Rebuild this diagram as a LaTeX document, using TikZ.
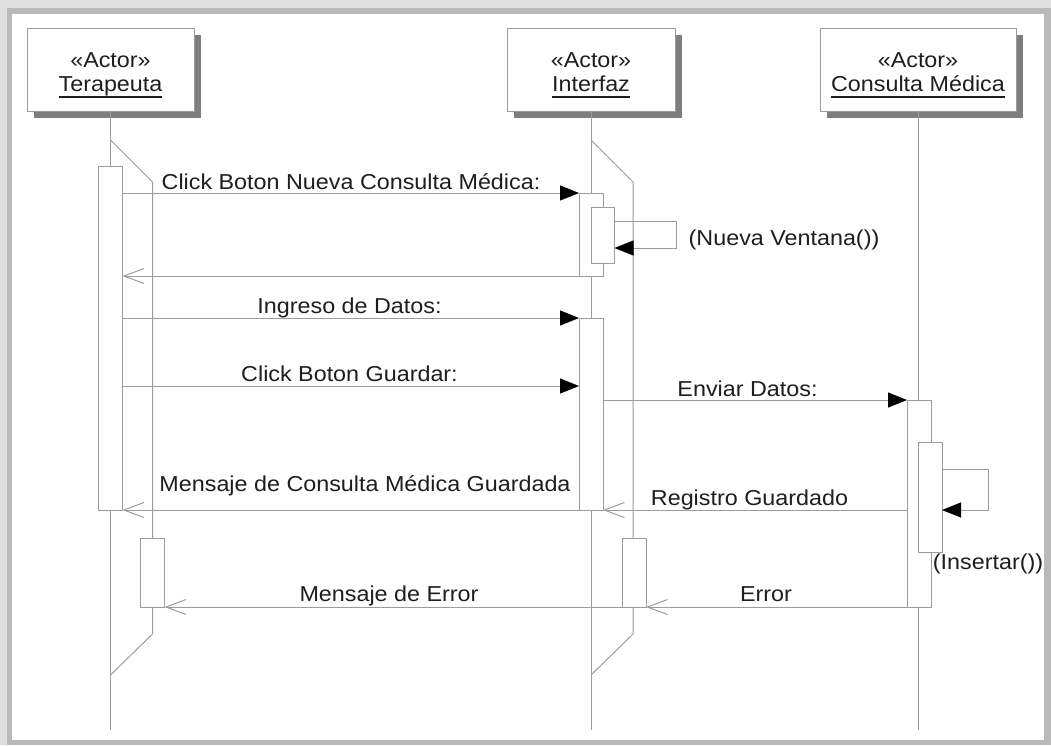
\documentclass[tikz,border=0pt]{standalone}
\usepackage{fontspec}
\setmainfont{Liberation Sans}[FakeStretch=1.08]
\usetikzlibrary{arrows.meta,shadows}
\definecolor{ln}{HTML}{9C9C9C}
\definecolor{shd}{HTML}{7E7E7E}
\definecolor{txt}{HTML}{1E1E1E}
\definecolor{bgA}{HTML}{DEDEDE}
\definecolor{bgB}{HTML}{BABABA}
\begin{document}
\begin{tikzpicture}[x=1pt,y=-1pt,
  every node/.style={inner sep=0pt, outer sep=0pt},
  lbl/.style={font=\fontsize{21.6}{24}\selectfont, text=txt, anchor=base},
  actorbox/.style={draw=ln, fill=white, line width=1pt, minimum width=#1, minimum height=83pt,
    drop shadow={shadow xshift=7pt, shadow yshift=-7pt, fill=shd, opacity=1}},
  bar/.style={draw=ln, fill=white, line width=1pt, minimum width=24pt, minimum height=#1},
  life/.style={draw=ln, line width=1pt},
  uline/.style={draw=txt, line width=1.2pt},
  msg/.style={draw=ln, line width=1pt, -{Triangle[length=19pt, width=15pt, color=black]}},
  ret/.style={draw=ln, line width=1pt, -{Straight Barb[length=20pt, width=15pt]}}
]
\useasboundingbox (0,0) rectangle (1051,745);
% frame
\fill[bgA] (0,0) rectangle (1051,745);
\fill[bgB] (7,8) rectangle (1051,745);
\fill[white] (12,14) rectangle (1044,740);

% actors
\node[actorbox=167pt] (ta) at (110.5,69.5) {};
\node[lbl] (tas) at (110.5,67) {«Actor»};
\node[lbl] (tan) at (110.5,91) {Terapeuta};
\draw[uline] ([yshift=-6pt]tan.base west) -- ([yshift=-6pt]tan.base east);

\node[actorbox=168pt] (ia) at (591,69.5) {};
\node[lbl] (ias) at (591,67) {«Actor»};
\node[lbl] (ian) at (591,91) {Interfaz};
\draw[uline] ([yshift=-6pt]ian.base west) -- ([yshift=-6pt]ian.base east);

\node[actorbox=196pt] (ca) at (918,69.5) {};
\node[lbl] (cas) at (918,67) {«Actor»};
\node[lbl] (can) at (918,91) {Consulta Médica};
\draw[uline] ([yshift=-6pt]can.base west) -- ([yshift=-6pt]can.base east);

% lifelines
\coordinate (tend) at (110.5,730);
\coordinate (iend) at (591,730);
\coordinate (cend) at (918,730);
\draw[life] (ta.south) -- (tend);
\draw[life] (ia.south) -- (iend);
\draw[life] (ca.south) -- (cend);
\draw[life] (110.5,140) -- (152.5,182) -- (152.5,634) -- (110.5,675);
\draw[life] (591,140) -- (633,182) -- (633,634) -- (591,675);

% activation bars
\node[bar=344pt] (tb1) at (110.5,338) {};
\node[bar=69pt] (tb2) at (152.5,572.5) {};
\node[bar=83pt] (ib1) at (591,234.5) {};
\node[bar=56pt, minimum width=23pt] (ib1n) at (603,235) {};
\node[bar=192pt] (ib2) at (591,414) {};
\node[bar=69pt] (ib3) at (634,572.5) {};
\node[bar=207pt] (cb1) at (919,503.5) {};
\node[bar=110pt] (cb1n) at (930,497) {};

% messages
\draw[msg] (tb1.east |- 0,193) -- (ib1.west |- 0,193);
\node[lbl] (l1) at (351,189) {Click Boton Nueva Consulta Médica:};

\draw[msg] (ib1n.east |- 0,221) -- (676,221) -- (676,248) -- (ib1n.east |- 0,248);
\node[lbl] (l2) at (784,245) {(Nueva Ventana())};

\draw[ret] (ib1.west |- 0,276) -- (tb1.east |- 0,276);

\draw[msg] (tb1.east |- 0,318) -- (ib2.west |- 0,318);
\node[lbl] (l3) at (349.5,313.5) {Ingreso de Datos:};

\draw[msg] (tb1.east |- 0,386) -- (ib2.west |- 0,386);
\node[lbl] (l4) at (349.5,381.5) {Click Boton Guardar:};

\draw[msg] (ib2.east |- 0,400) -- (cb1.west |- 0,400);
\node[lbl] (l5) at (747.5,396) {Enviar Datos:};

\draw[msg] (cb1n.east |- 0,469) -- (988,469) -- (988,510) -- (cb1n.east |- 0,510);
\node[lbl] (l6) at (988,569) {(Insertar())};

\draw[ret] (cb1.west |- 0,510) -- (ib2.east |- 0,510);
\node[lbl] (l7) at (749.5,505) {Registro Guardado};

\draw[ret] (ib2.west |- 0,510) -- (tb1.east |- 0,510);
\node[lbl] (l8) at (365,491) {Mensaje de Consulta Médica Guardada};

\draw[ret] (cb1.west |- 0,607) -- (ib3.east |- 0,607);
\node[lbl] (l9) at (766,601) {Error};

\draw[ret] (ib3.west |- 0,607) -- (tb2.east |- 0,607);
\node[lbl] (l10) at (389,601) {Mensaje de Error};
\end{tikzpicture}
\end{document}
